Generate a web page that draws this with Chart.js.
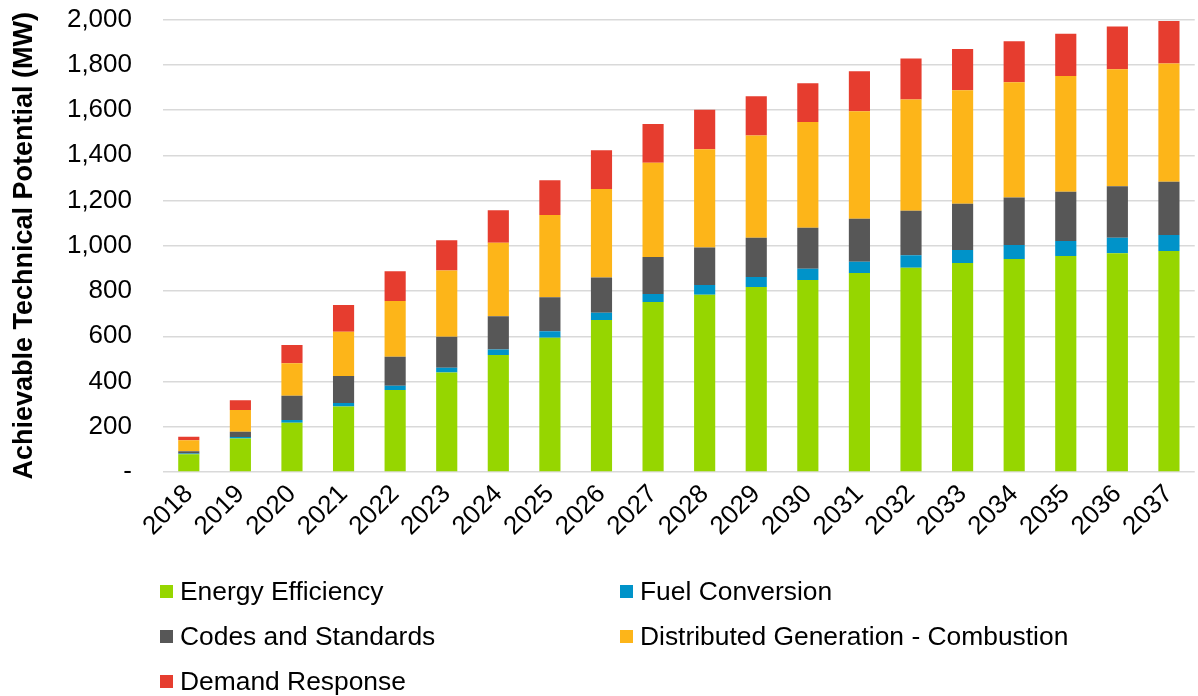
<!DOCTYPE html>
<html><head><meta charset="utf-8">
<script src="https://cdn.jsdelivr.net/npm/chart.js@4"></script>
<style>
html,body{margin:0;padding:0;background:#fff;}
#wrap{position:relative;width:1198px;height:696px;overflow:hidden;}
#c{position:absolute;left:0;top:-27px;}
#legend{position:absolute;left:0;top:0;width:1198px;height:696px;pointer-events:none;font-family:"Liberation Sans",Arial,sans-serif;font-size:26.4px;color:#000;}
.item{position:absolute;display:flex;align-items:center;white-space:nowrap;height:30px;line-height:30px;}
.box{width:13px;height:13px;margin-right:7px;flex:none;}
</style></head>
<body><div id="wrap"><canvas id="c" width="1198" height="723" style="width:1198px;height:723px;"></canvas><div id="legend"></div></div>
<script>
const years = ['2018','2019','2020','2021','2022','2023','2024','2025','2026','2027','2028','2029','2030','2031','2032','2033','2034','2035','2036','2037'];
const energyEfficiency = [78,148,218,290,363,440,517,594,672,751,784,818,849,880,903,924,942,955,967,977];
const fuelConversion = [4,7,12,15,18,21,25,28,32,36,43,44,49,50,55,57,62,66,69,71];
const codesStandards = [10,23,107,119,129,137,146,150,156,164,166,174,182,190,197,205,210,218,227,235];
const distributedGeneration = [48,96,144,196,246,293,325,364,391,416,434,452,467,475,492,502,509,512,518,523];
const demandResponse = [16,43,81,118,131,134,144,154,171,172,174,173,172,177,181,182,181,186,188,188];
const yTicks = [0,200,400,600,800,1000,1200,1400,1600,1800,2000];

const FONT = '"Liberation Sans", Arial, sans-serif';
const mk = (label, data, color) => ({label, data, backgroundColor: color, borderWidth: 0, barPercentage: 0.41, categoryPercentage: 1.0});

const chart = new Chart(document.getElementById('c'), {
  type: 'bar',
  data: {
    labels: years,
    datasets: [
      mk('Energy Efficiency', energyEfficiency, '#96D600'),
      mk('Fuel Conversion', fuelConversion, '#0093C9'),
      mk('Codes and Standards', codesStandards, '#575757'),
      mk('Distributed Generation - Combustion', distributedGeneration, '#FDB519'),
      mk('Demand Response', demandResponse, '#E63D2F')
    ]
  },
  options: {
    responsive: false,
    devicePixelRatio: 1,
    animation: false,
    layout: {padding: {top: 19, right: 0, bottom: 0, left: 0}},
    plugins: {legend: {display: false}, tooltip: {enabled: false}},
    scales: {
      x: {
        stacked: true,
        grid: {display: false, drawTicks: false},
        border: {display: false},
        ticks: {color: '#000', font: {family: FONT, size: 26}, minRotation: 45, maxRotation: 45, padding: 7, autoSkip: false},
        afterFit: (s) => { s.height = 723 - 499; }
      },
      y: {
        stacked: true,
        min: 0, max: 2000,
        afterBuildTicks: (s) => { s.ticks = yTicks.map(v => ({value: v})); },
        grid: {color: '#D9D9D9', lineWidth: 1.5, drawTicks: false},
        border: {display: false},
        ticks: {color: '#000', font: {family: FONT, size: 26}, padding: 31,
          callback: (v) => v === 0 ? '-' : v.toLocaleString('en-US')},
        title: {display: true, text: 'Achievable Technical Potential (MW)', color: '#000',
          font: {family: FONT, size: 27, weight: 'bold'}, padding: {top: 8, bottom: 0}},
        afterFit: (s) => { s.width = 163; }
      }
    }
  }
});

const legend = document.getElementById('legend');
chart.data.datasets.forEach((ds, i) => {
  const col = i % 2, row = Math.floor(i / 2);
  const it = document.createElement('div');
  it.className = 'item';
  it.style.left = (col ? 620 : 160) + 'px';
  it.style.top = (591 + row * 45 - 15) + 'px';
  const b = document.createElement('span');
  b.className = 'box';
  b.style.background = ds.backgroundColor;
  const t = document.createElement('span');
  t.textContent = ds.label;
  it.appendChild(b); it.appendChild(t);
  legend.appendChild(it);
});
</script>
</body></html>
